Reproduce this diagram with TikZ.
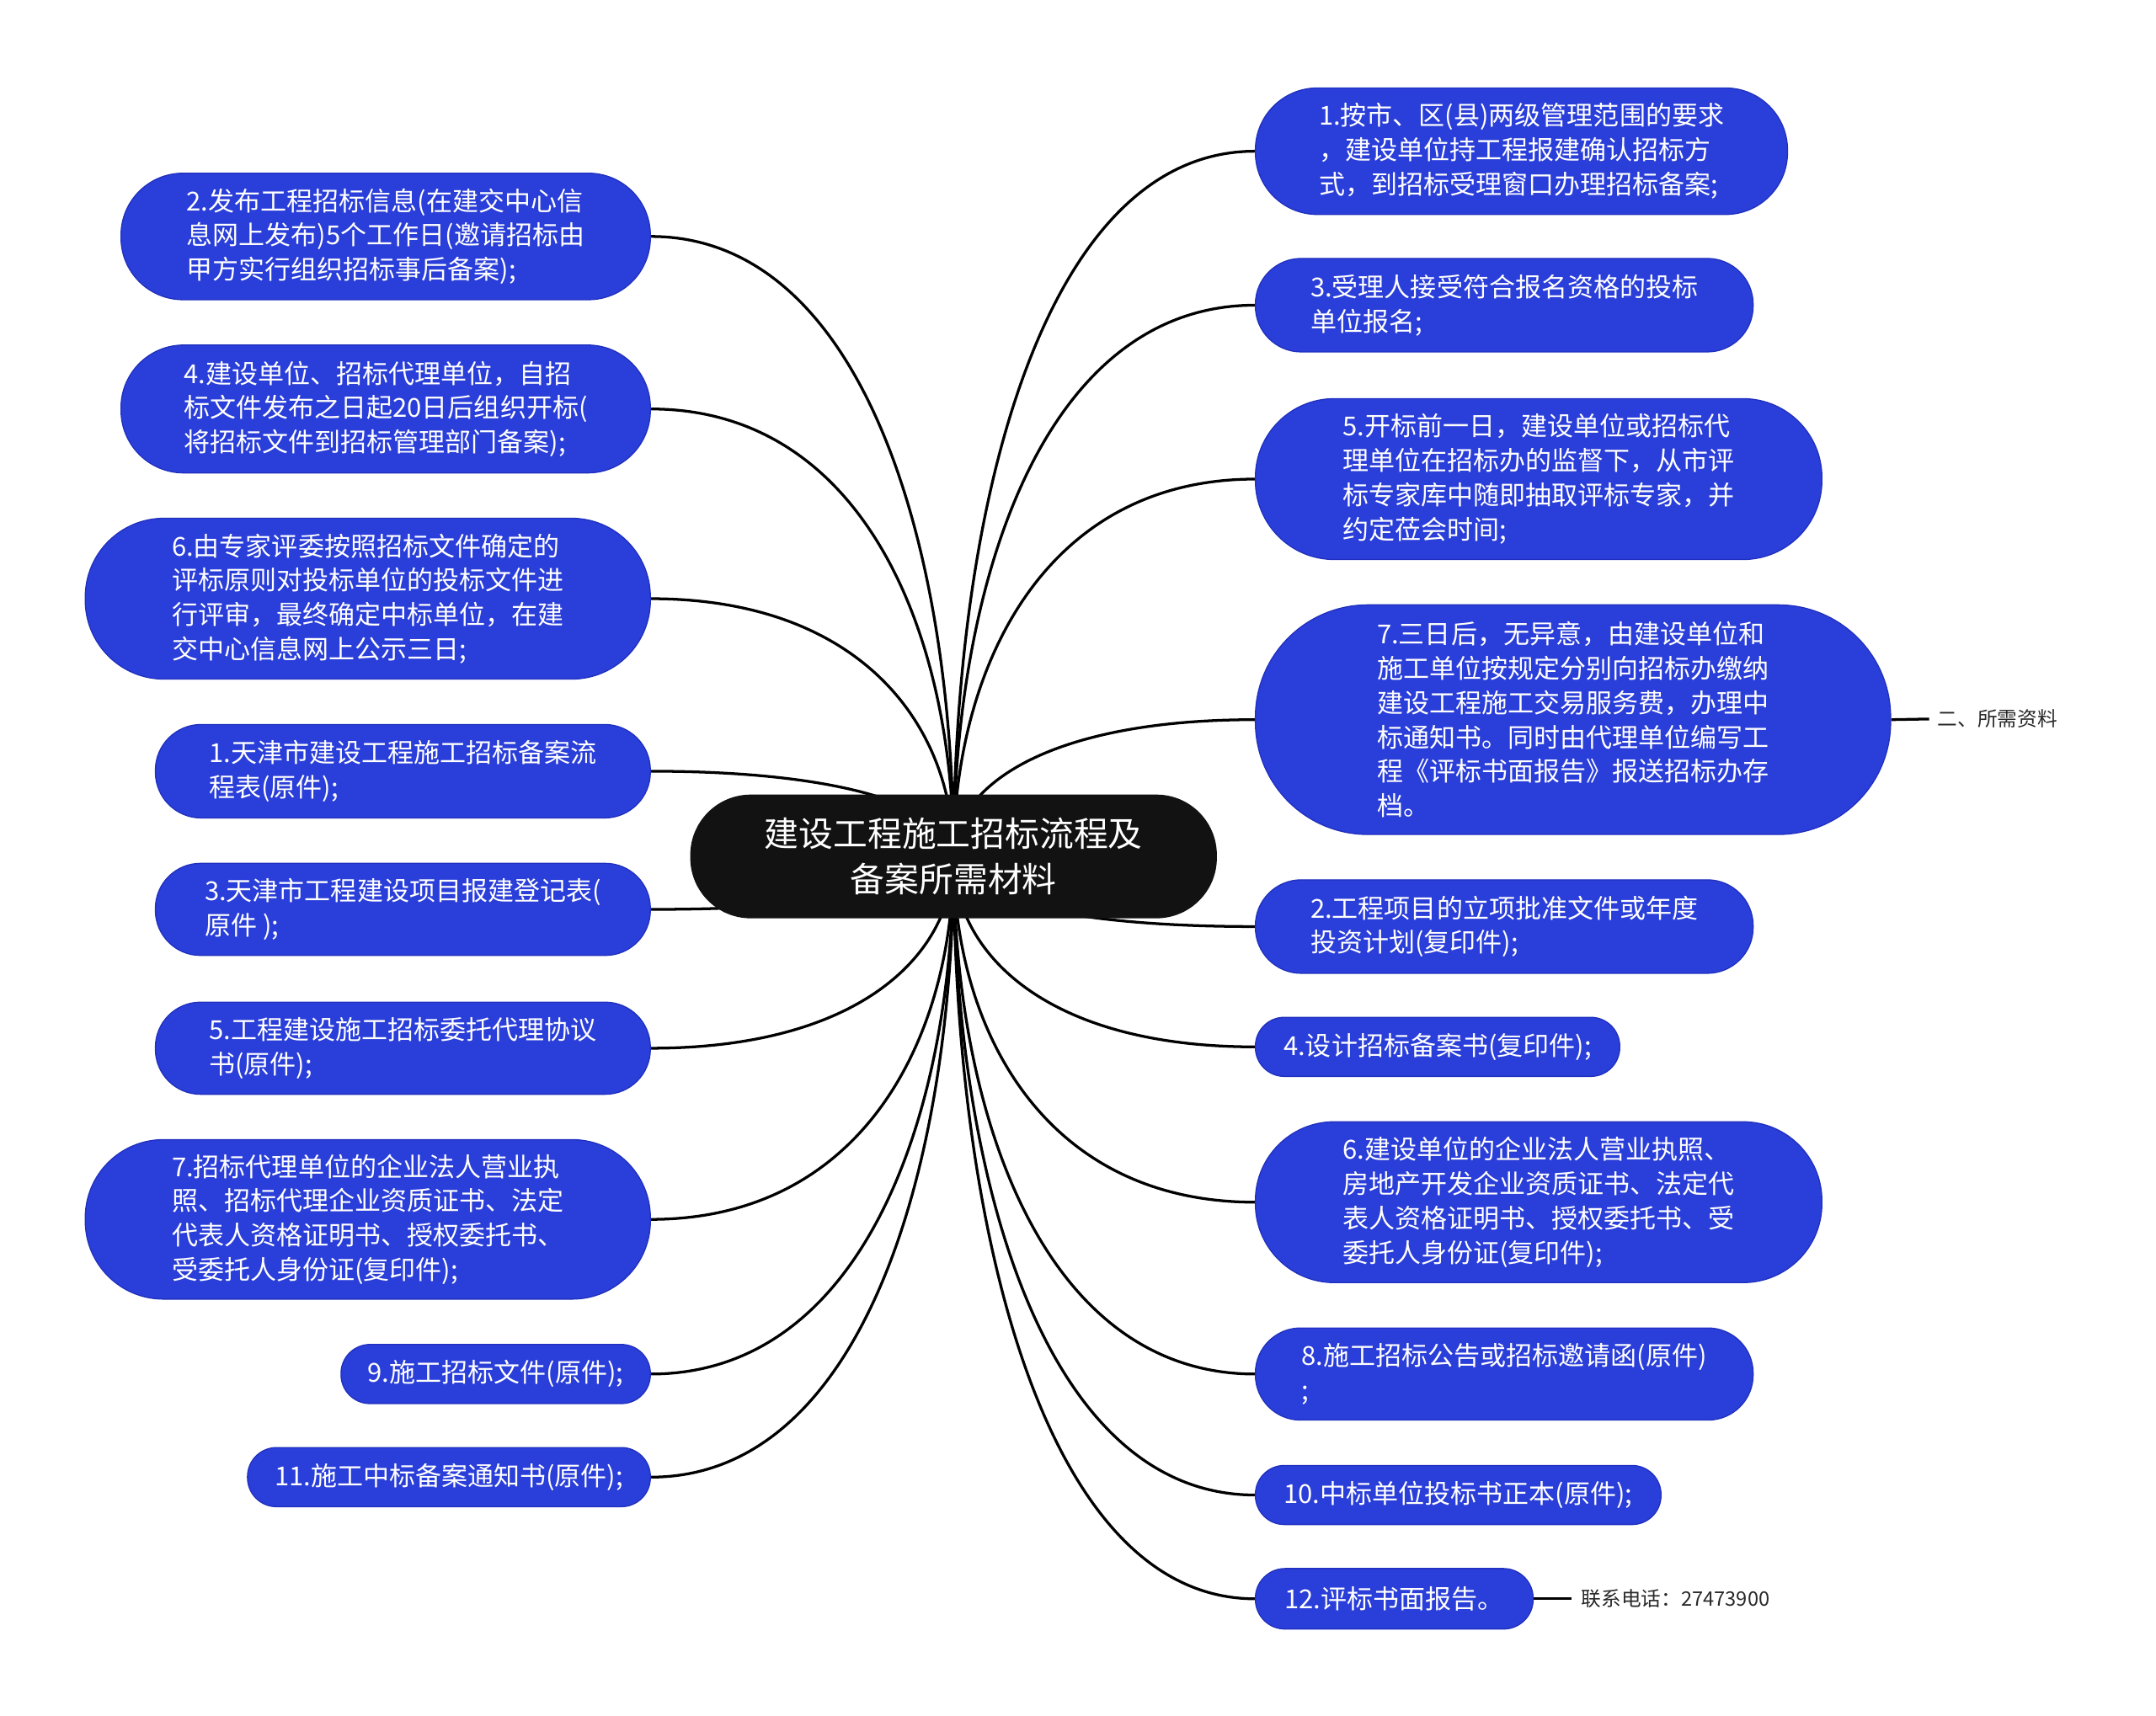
\documentclass[tikz,border=0pt]{standalone}
\usepackage{fontspec}
\setmainfont{Noto Sans CJK SC}
\usepackage{xcolor}
\usetikzlibrary{calc,backgrounds}

\definecolor{leafblue}{RGB}{42,62,217}
\definecolor{leafedge}{RGB}{32,48,190}
\definecolor{rootblack}{RGB}{18,18,18}
\definecolor{tipgray}{RGB}{40,40,40}

\tikzset{
  root/.style={fill=rootblack, text=white, rounded corners=44pt,
    minimum width=383pt, minimum height=90pt, inner sep=0pt,
    align=center, font=\fontsize{25}{33}\selectfont},
  leaf/.style 2 args={fill=leafblue, draw=leafedge, line width=0.8pt,
    text=white, inner sep=0pt, align=left,
    minimum width=#1pt, minimum height=#2pt, rounded corners=#2*0.49pt,
    font=\fontsize{19}{25}\selectfont},
  tip/.style={text=tipgray, inner sep=0pt, anchor=west,
    font=\fontsize{14.5}{18}\selectfont},
  link/.style={line width=2pt, black},
  branch/.style={to path={.. controls ($(\tikztostart)!0.5!(\tikztostart|-\tikztotarget)$)
    and ($(\tikztotarget)!0.7!(\tikztotarget-|\tikztostart)$) .. (\tikztotarget)}}
}

\begin{document}
\begin{tikzpicture}[x=1pt, y=-1pt]

    % Page frame
    \useasboundingbox (0,0) rectangle (1568,1248);

    % Root topic
    \node[root] (root) at (693.5,623) {建设工程施工招标流程及\\备案所需材料};

    % Left branches
    \node[leaf={385}{92}]  (l2)  at (280.5,172)   {2.发布工程招标信息(在建交中心信\\息网上发布)5个工作日(邀请招标由\\甲方实行组织招标事后备案);};
    \node[leaf={385}{93}]  (l4)  at (280.5,297.5) {4.建设单位、招标代理单位，自招\\标文件发布之日起20日后组织开标(\\将招标文件到招标管理部门备案);};
    \node[leaf={411}{117}] (l6)  at (267.5,435.5) {6.由专家评委按照招标文件确定的\\评标原则对投标单位的投标文件进\\行评审，最终确定中标单位，在建\\交中心信息网上公示三日;};
    \node[leaf={360}{68}]  (m1)  at (293,561)     {1.天津市建设工程施工招标备案流\\程表(原件);};
    \node[leaf={360}{67}]  (m3)  at (293,661.5)   {3.天津市工程建设项目报建登记表(\\原件 );};
    \node[leaf={360}{67}]  (m5)  at (293,762.5)   {5.工程建设施工招标委托代理协议\\书(原件);};
    \node[leaf={411}{116}] (m7)  at (267.5,887)   {7.招标代理单位的企业法人营业执\\照、招标代理企业资质证书、法定\\代表人资格证明书、授权委托书、\\受委托人身份证(复印件);};
    \node[leaf={225}{43}]  (m9)  at (360.5,999.5)  {9.施工招标文件(原件);};
    \node[leaf={293}{43}]  (m11) at (326.5,1074.5) {11.施工中标备案通知书(原件);};

    % Right branches
    \node[leaf={387}{92}]  (r1)  at (1106.5,110)  {1.按市、区(县)两级管理范围的要求\\，建设单位持工程报建确认招标方\\式，到招标受理窗口办理招标备案;};
    \node[leaf={362}{68}]  (r3)  at (1094,222)    {3.受理人接受符合报名资格的投标\\单位报名;};
    \node[leaf={412}{117}] (r5)  at (1119,348.5)  {5.开标前一日，建设单位或招标代\\理单位在招标办的监督下，从市评\\标专家库中随即抽取评标专家，并\\约定莅会时间;};
    \node[leaf={462}{167}] (r7)  at (1144,523.5)  {7.三日后，无异意，由建设单位和\\施工单位按规定分别向招标办缴纳\\建设工程施工交易服务费，办理中\\标通知书。同时由代理单位编写工\\程《评标书面报告》报送招标办存\\档。};
    \node[leaf={362}{68}]  (n2)  at (1094,674)    {2.工程项目的立项批准文件或年度\\投资计划(复印件);};
    \node[leaf={265}{43}]  (n4)  at (1045.5,761.5) {4.设计招标备案书(复印件);};
    \node[leaf={412}{117}] (n6)  at (1119,874.5)  {6.建设单位的企业法人营业执照、\\房地产开发企业资质证书、法定代\\表人资格证明书、授权委托书、受\\委托人身份证(复印件);};
    \node[leaf={362}{67}]  (n8)  at (1094,999.5)  {8.施工招标公告或招标邀请函(原件)\\;};
    \node[leaf={295}{43}]  (n10) at (1060.5,1087.5) {10.中标单位投标书正本(原件);};
    \node[leaf={202}{44}]  (n12) at (1014,1163)   {12.评标书面报告。};

    % Side notes
    \node[tip] (need)  at (1409,523) {二、所需资料};
    \node[tip] (phone) at (1150,1163) {联系电话：27473900};

    % Connectors (behind the boxes)
    \begin{scope}[on background layer]
        \foreach \leafname in {l2,l4,l6,m1,m3,m5,m7,m9,m11}
            \draw[link] (root.center) to[branch] (\leafname.east);
        \foreach \leafname in {r1,r3,r5,r7,n2,n4,n6,n8,n10,n12}
            \draw[link] (root.center) to[branch] (\leafname.west);
        \draw[link] (r7.east) -- ([xshift=-6pt]need.west);
        \draw[link] (n12.east) -- ([xshift=-7pt]phone.west);
    \end{scope}

\end{tikzpicture}
\end{document}
